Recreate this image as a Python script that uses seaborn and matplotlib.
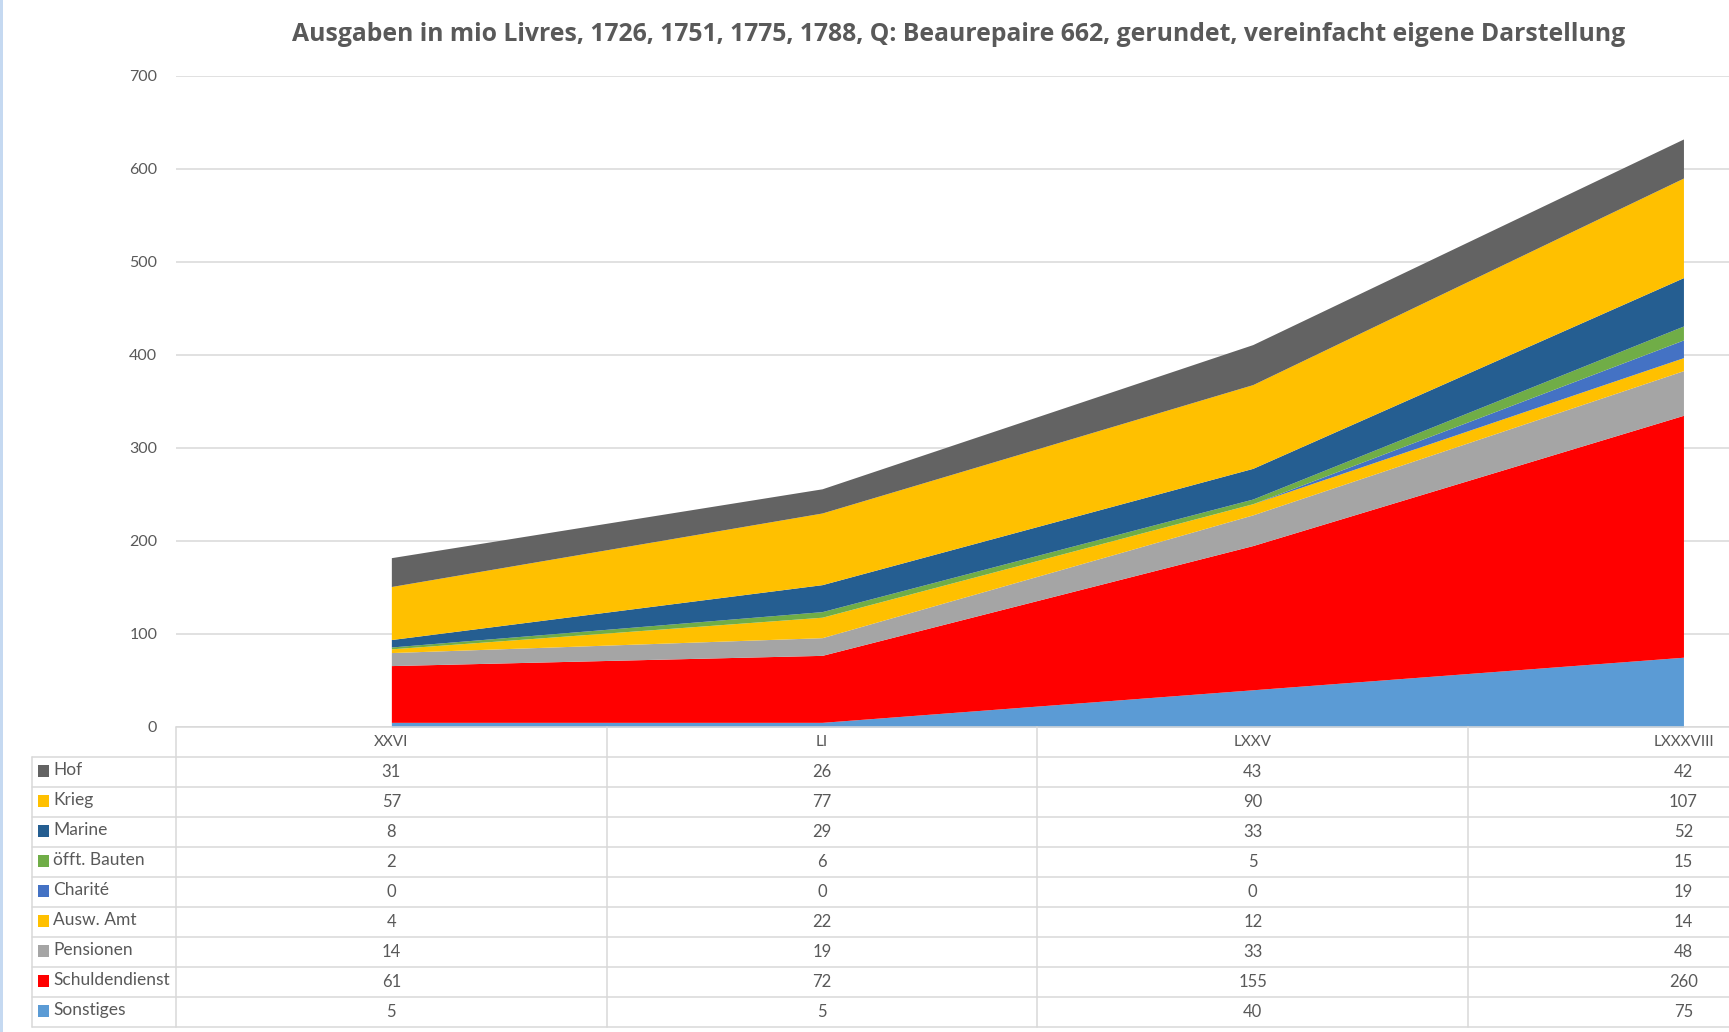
import matplotlib
matplotlib.use("Agg")
import matplotlib.pyplot as plt
from matplotlib.patches import Rectangle
import seaborn as sns

# Data: expenditure in million livres
categories = ["XXVI", "LI", "LXXV", "LXXXVIII"]
sonstiges = [5, 5, 40, 75]
schuldendienst = [61, 72, 155, 260]
pensionen = [14, 19, 33, 48]
ausw_amt = [4, 22, 12, 14]
charite = [0, 0, 0, 19]
oefft_bauten = [2, 6, 5, 15]
marine = [8, 29, 33, 52]
krieg = [57, 77, 90, 107]
hof = [31, 26, 43, 42]

# stacking order bottom -> top
series_names = ["Sonstiges", "Schuldendienst", "Pensionen", "Ausw. Amt", "Charité",
                "öfft. Bauten", "Marine", "Krieg", "Hof"]
series_values = [sonstiges, schuldendienst, pensionen, ausw_amt, charite,
                 oefft_bauten, marine, krieg, hof]
series_colors = ["#5B9BD5", "#FF0000", "#A5A5A5", "#FFC000", "#4472C4",
                 "#70AD47", "#255E91", "#FFC000", "#636363"]

y_ticks = [0, 100, 200, 300, 400, 500, 600, 700]
title = "Ausgaben in mio Livres, 1726, 1751, 1775, 1788, Q: Beaurepaire 662, gerundet, vereinfacht eigene Darstellung"

sns.set_theme(style="white")
plt.rcParams["font.family"] = ["Lato", "DejaVu Sans"]

TXT = "#595959"
GRID = "#D9D9D9"
W, H = 1729, 1032
fig = plt.figure(figsize=(W / 100, H / 100), dpi=100)
fig.patch.set_facecolor("white")

col_w = 430.7
left_px = 176
right_px = left_px + 4 * col_w


def rect(l, t, r, b):
    return [l / W, 1 - b / H, (r - l) / W, (b - t) / H]


# ---- stacked area chart ----
ax = fig.add_axes(rect(left_px, 75.7, right_px, 727))
x = list(range(len(categories)))
ax.stackplot(x, *series_values, colors=series_colors, linewidth=0, antialiased=True)
ax.set_xlim(-0.5, len(categories) - 0.5)
ax.set_ylim(0, 700)
ax.set_yticks(y_ticks)
ax.set_yticklabels([str(v) for v in y_ticks], color=TXT, fontsize=11.5)
ax.tick_params(axis="y", length=0, pad=13.5)
ax.set_xticks([])
for s in ax.spines.values():
    s.set_visible(False)
ax.yaxis.grid(True, color=GRID, linewidth=1.1)
ax.set_axisbelow(True)

# ---- data table below the chart ----
tab = fig.add_axes(rect(left_px, 727, right_px, 1027))
tab.set_xlim(-0.5, len(categories) - 0.5)
tab.set_ylim(10, 0)
tab.axis("off")

x_leg = -0.5 - (left_px - 32) / col_w
lw = 1.1
# horizontal rules
tab.plot([-0.5, 3.5], [0, 0], color=GRID, lw=lw, clip_on=False)
for r in range(1, 11):
    tab.plot([x_leg, 3.5], [r, r], color=GRID, lw=lw, clip_on=False)
# vertical rules
for c in range(len(categories)):
    tab.plot([c - 0.5, c - 0.5], [0, 10], color=GRID, lw=lw, clip_on=False)
tab.plot([x_leg, x_leg], [1, 10], color=GRID, lw=lw, clip_on=False)

for c, cat in enumerate(categories):
    tab.text(c, 0.5, cat, ha="center", va="center", color=TXT, fontsize=11, clip_on=False)

rows = list(zip(series_names, series_values, series_colors))[::-1]
sq_x = -0.5 - (left_px - 38) / col_w
txt_x = -0.5 - (left_px - 53) / col_w
for i, (name, vals, colr) in enumerate(rows):
    yc = i + 1.5
    tab.add_patch(Rectangle((sq_x, yc - 0.22), 11 / col_w, 0.37, color=colr,
                            clip_on=False, linewidth=0))
    tab.text(txt_x, yc - 0.08, name, ha="left", va="center", color=TXT,
             fontsize=12.5, clip_on=False)
    for c, v in enumerate(vals):
        tab.text(c, yc, str(v), ha="center", va="center", color=TXT,
                 fontsize=12, clip_on=False)

# title
fig.text(958.5 / W, 1 - 34 / H, title, ha="center", va="center",
         color=TXT, fontsize=17.8, fontweight="bold", family=["Open Sans", "DejaVu Sans"])

# thin window edge on the left
fig.add_artist(Rectangle((0, 0), 3 / W, 1, transform=fig.transFigure,
                         color="#C5D9F1", linewidth=0))

fig.savefig("out.png", dpi=100)
